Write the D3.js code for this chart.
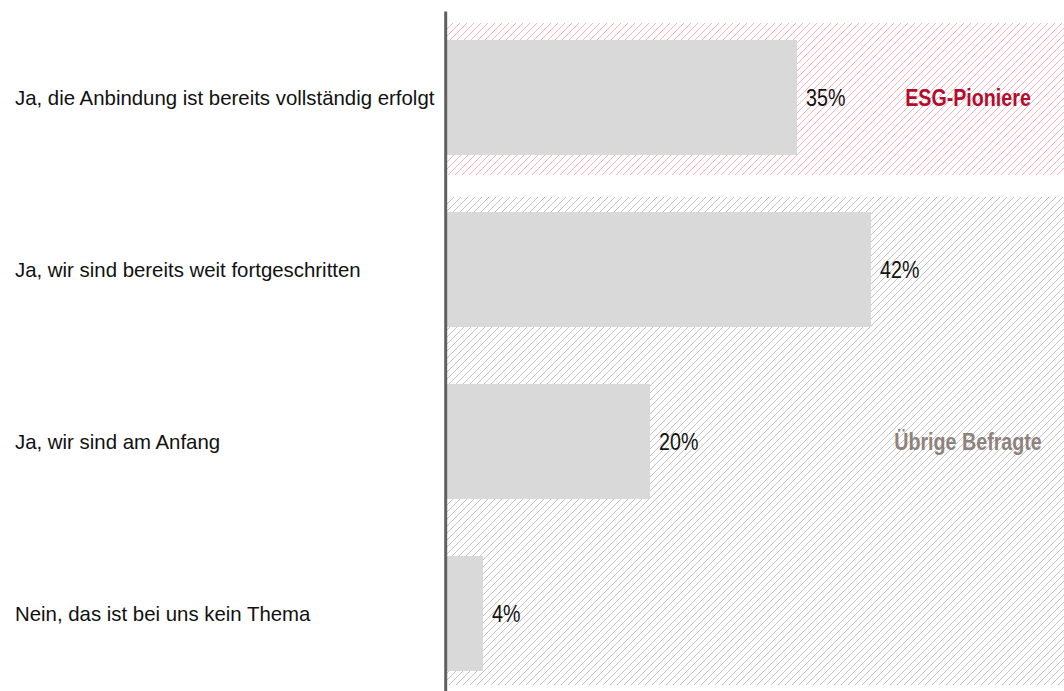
<!DOCTYPE html>
<html>
<head>
<meta charset="utf-8">
<script src="https://cdn.jsdelivr.net/npm/d3@7"></script>
<style>
html,body{margin:0;padding:0;background:#fff;}
svg{display:block;}
</style>
</head>
<body>
<svg id="chart" width="1064" height="691"></svg>
<script>
const categories = [
  "Ja, die Anbindung ist bereits vollständig erfolgt",
  "Ja, wir sind bereits weit fortgeschritten",
  "Ja, wir sind am Anfang",
  "Nein, das ist bei uns kein Thema"
];
const values = [35.0, 42.4, 20.3, 3.6];
const groupNames = ["ESG-Pioniere", "Übrige Befragte"];
const groupMembers = [[0], [1, 2, 3]];
const groupLabelRow = [0, 2];

const W = 1064, H = 691;
const svg = d3.select("#chart");

function hasFont(name){
  const c = document.createElement("canvas").getContext("2d");
  const s = "abcdefghiWMm%35 Übrige";
  c.font = "40px monospace"; const a = c.measureText(s).width;
  c.font = `40px '${name}', monospace`; const b = c.measureText(s).width;
  return Math.abs(a-b) > 0.5;
}
const narrowOK = hasFont("Liberation Sans Narrow");

const x = d3.scaleLinear().domain([0, 61.7]).range([447, W]);
const y = d3.scaleBand().domain(categories).range([11.5, 699.5])
  .paddingInner(0.3314).paddingOuter(0.1657);
const bw = y.bandwidth();

const defs = svg.append("defs");
function hatch(id, color){
  const p = defs.append("pattern").attr("id", id)
    .attr("patternUnits", "userSpaceOnUse").attr("width", 7).attr("height", 7);
  p.append("path").attr("d", "M0,7 L7,0 M-1,1 L1,-1 M6,8 L8,6")
    .attr("stroke", color).attr("stroke-width", 0.95).attr("fill", "none");
}
hatch("hPink", "#ffaabb");
hatch("hGray", "#c2beba");

// group background regions
const regionPad = [[17, 20], [15, 14]];
const regionFill = ["url(#hPink)", "url(#hGray)"];
groupMembers.forEach((m, i) => {
  const top = y(categories[m[0]]) - regionPad[i][0];
  const bot = y(categories[m[m.length-1]]) + bw + regionPad[i][1];
  svg.append("rect").attr("x", x(0)).attr("y", top)
    .attr("width", W - x(0)).attr("height", bot - top)
    .attr("fill", regionFill[i]);
});

// bars
svg.append("g").selectAll("rect").data(categories).join("rect")
  .attr("x", x(0)).attr("y", d => y(d))
  .attr("width", (d, i) => x(values[i]) - x(0))
  .attr("height", bw).attr("fill", "#d9d9d9");

// axis line
svg.append("line").attr("x1", 445.7).attr("x2", 445.7)
  .attr("y1", 11.5).attr("y2", H)
  .attr("stroke", "#606060").attr("stroke-width", 3);

// category labels
svg.append("g").selectAll("text").data(categories).join("text")
  .attr("x", 15).attr("y", d => y(d) + bw/2 + 7.5)
  .attr("font-family", "'Liberation Sans', Arial, sans-serif")
  .attr("font-size", 20.4).attr("fill", "#111")
  .text(d => d);

function narrowText(g, tx, ty, str, opts){
  const gg = g.append("g").attr("transform", narrowOK ? `translate(${tx},${ty})` : `translate(${tx},${ty}) scale(0.82,1)`);
  gg.append("text").attr("x", 0).attr("y", 0)
    .attr("font-family", narrowOK ? "'Liberation Sans Narrow', 'Arial Narrow', sans-serif" : "'Liberation Sans', Arial, sans-serif")
    .attr("font-size", opts.size).attr("font-weight", opts.weight || "normal")
    .attr("fill", opts.fill).attr("text-anchor", opts.anchor || "start")
    .text(str);
}

// value labels
const fmt = d3.format(".0f");
const vl = svg.append("g");
categories.forEach((c, i) => {
  narrowText(vl, x(values[i]) + 9, y(c) + bw/2 + 8.6, fmt(values[i]) + "%", {size: 24, fill: "#111"});
});

// group labels
const groupColors = ["#b30c2c", "#8e837c"];
groupNames.forEach((g, i) => {
  const c = categories[groupLabelRow[i]];
  narrowText(svg, 968, y(c) + bw/2 + 8.6, g, {size: 24, weight: "bold", fill: groupColors[i], anchor: "middle"});
});
</script>
</body>
</html>
